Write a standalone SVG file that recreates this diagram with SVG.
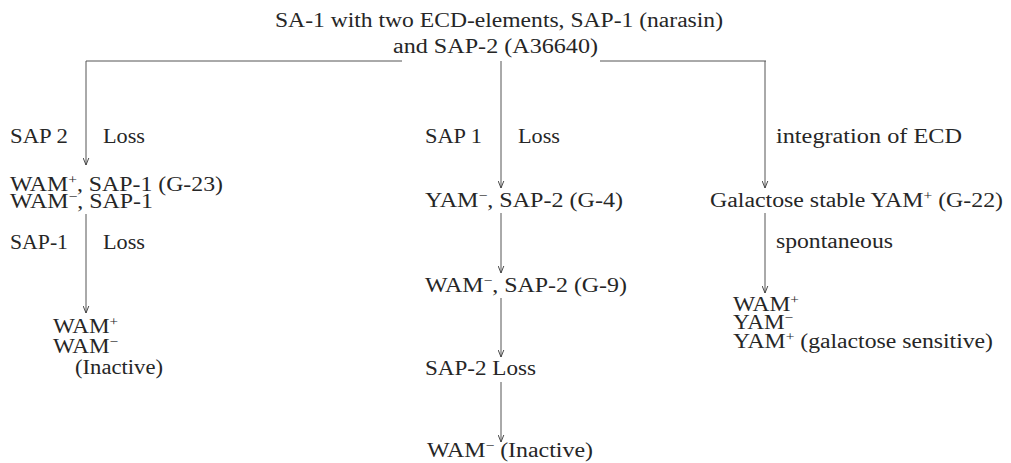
<svg xmlns="http://www.w3.org/2000/svg" width="1011" height="463" viewBox="0 0 1011 463">
<defs>
<marker id="ah" viewBox="0 0 10 10" refX="10" refY="5" markerWidth="7" markerHeight="7" markerUnits="userSpaceOnUse" orient="auto">
<path d="M0,1 L10,5 L0,9" fill="none" stroke="#444" stroke-width="1.4"/>
</marker>
<style>
text{font-family:"Liberation Serif","Times New Roman",serif;font-size:20px;fill:#262626}
.s{font-size:13px}
.c line,.c path{stroke:#555;stroke-width:1;fill:none}
.a{marker-end:url(#ah)}
</style>
</defs>
<rect width="1011" height="463" fill="#fff"/>
<g id="root">
<text x="275" y="27" textLength="448" lengthAdjust="spacingAndGlyphs">SA-1 with two ECD-elements, SAP-1 (narasin)</text>
<text x="393" y="53" textLength="205" lengthAdjust="spacingAndGlyphs">and SAP-2 (A36640)</text>
</g>
<g class="c" id="connectors">
<path d="M86,61 H402"/>
<path d="M600,61 H766"/>
<line class="a" x1="86" y1="61" x2="86" y2="165"/>
<line class="a" x1="501" y1="61" x2="501" y2="188"/>
<line class="a" x1="765" y1="61" x2="765" y2="188"/>
<line class="a" x1="86" y1="214" x2="86" y2="313"/>
<line class="a" x1="501" y1="213" x2="501" y2="273"/>
<line class="a" x1="501" y1="298" x2="501" y2="357"/>
<line class="a" x1="501" y1="382" x2="501" y2="442"/>
<line class="a" x1="765" y1="213" x2="765" y2="293"/>
</g>
<g id="left">
<text x="10" y="143" textLength="58" lengthAdjust="spacingAndGlyphs">SAP 2</text>
<text x="103" y="143" textLength="42" lengthAdjust="spacingAndGlyphs">Loss</text>
<text x="10" y="191" textLength="213" lengthAdjust="spacingAndGlyphs">WAM<tspan class="s" dy="-7">+</tspan><tspan dy="7">, SAP-1 (G-23)</tspan></text>
<text x="10" y="208" textLength="143" lengthAdjust="spacingAndGlyphs">WAM<tspan class="s" dy="-7">−</tspan><tspan dy="7">, SAP-1</tspan></text>
<text x="10" y="249" textLength="58" lengthAdjust="spacingAndGlyphs">SAP-1</text>
<text x="103" y="249" textLength="42" lengthAdjust="spacingAndGlyphs">Loss</text>
<text x="53" y="333" textLength="65" lengthAdjust="spacingAndGlyphs">WAM<tspan class="s" dy="-7">+</tspan></text>
<text x="53" y="353" textLength="65" lengthAdjust="spacingAndGlyphs">WAM<tspan class="s" dy="-7">−</tspan></text>
<text x="75" y="374" textLength="88" lengthAdjust="spacingAndGlyphs">(Inactive)</text>
</g>
<g id="middle">
<text x="425" y="143" textLength="57" lengthAdjust="spacingAndGlyphs">SAP 1</text>
<text x="518" y="143" textLength="42" lengthAdjust="spacingAndGlyphs">Loss</text>
<text x="425" y="207" textLength="198" lengthAdjust="spacingAndGlyphs">YAM<tspan class="s" dy="-7">−</tspan><tspan dy="7">, SAP-2 (G-4)</tspan></text>
<text x="425" y="292" textLength="202" lengthAdjust="spacingAndGlyphs">WAM<tspan class="s" dy="-7">−</tspan><tspan dy="7">, SAP-2 (G-9)</tspan></text>
<text x="425" y="375" textLength="111" lengthAdjust="spacingAndGlyphs">SAP-2 Loss</text>
<text x="427" y="457" textLength="166" lengthAdjust="spacingAndGlyphs">WAM<tspan class="s" dy="-7">−</tspan><tspan dy="7"> (Inactive)</tspan></text>
</g>
<g id="right">
<text x="776" y="143" textLength="186" lengthAdjust="spacingAndGlyphs">integration of ECD</text>
<text x="710" y="207" textLength="293" lengthAdjust="spacingAndGlyphs">Galactose stable YAM<tspan class="s" dy="-7">+</tspan><tspan dy="7"> (G-22)</tspan></text>
<text x="776" y="248" textLength="117" lengthAdjust="spacingAndGlyphs">spontaneous</text>
<text x="733" y="311" textLength="66" lengthAdjust="spacingAndGlyphs">WAM<tspan class="s" dy="-7">+</tspan></text>
<text x="733" y="329" textLength="60" lengthAdjust="spacingAndGlyphs">YAM<tspan class="s" dy="-7">−</tspan></text>
<text x="733" y="348" textLength="260" lengthAdjust="spacingAndGlyphs">YAM<tspan class="s" dy="-7">+</tspan><tspan dy="7"> (galactose sensitive)</tspan></text>
</g>
</svg>
